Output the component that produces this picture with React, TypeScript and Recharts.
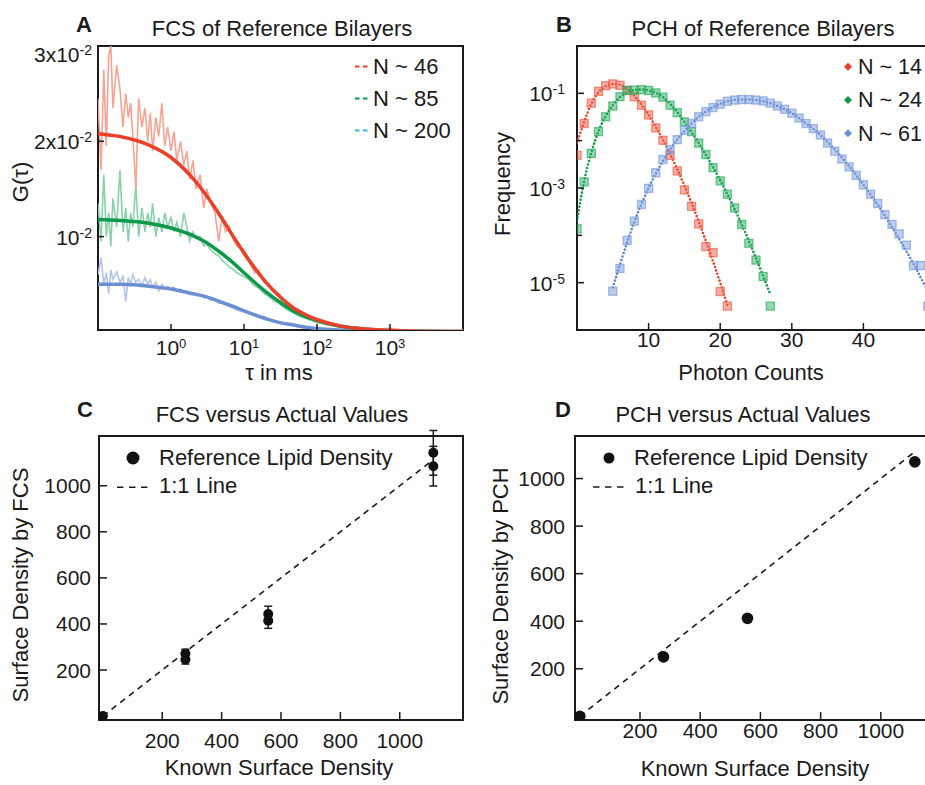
import React from 'react';
import { ComposedChart, LineChart, Line, Scatter, XAxis, YAxis, ReferenceArea, ErrorBar } from 'recharts';

const FONT = '"Liberation Sans", Arial, Helvetica, sans-serif';
const INK = '#1a1a1a';
const FS = 21;
const FL = 22;

// ---------- Panel A: FCS curves ----------
const fcsTau = [
  0.1, 0.11, 0.12, 0.13, 0.14, 0.15, 0.16, 0.18, 0.2, 0.22,
  0.24, 0.26, 0.28, 0.3, 0.33, 0.36, 0.4, 0.44, 0.48, 0.52,
  0.56, 0.62, 0.68, 0.75, 0.82, 0.9, 1.0, 1.1, 1.2, 1.35,
  1.5, 1.65, 1.8, 2.0, 2.2, 2.5, 2.8, 3.1, 3.5, 4.0,
  4.5, 5.0, 5.6, 6.3, 7.0, 8.0, 9.0, 10, 12, 14,
  16, 19, 22, 26, 30, 36, 42, 50, 60, 70,
  85, 100, 150, 220, 330, 500, 700, 1000, 1500, 2200,
  3300, 5000, 7000, 10000,
];
const fcsRawN46 = [
  0.0245, 0.0170, 0.0275, 0.0195, 0.0290, 0.0300, 0.0235, 0.0280, 0.0255, 0.0215,
  0.0250, 0.0225, 0.0240, 0.0205, 0.0150, 0.0245, 0.0215, 0.0235, 0.0200, 0.0230,
  0.0190, 0.0225, 0.0205, 0.0240, 0.0195, 0.0215, 0.0190, 0.0210, 0.0180, 0.0200,
  0.0175, 0.0190, 0.0160, 0.0180, 0.0150, 0.0165, 0.0130, 0.0150, 0.0135, 0.0125,
  0.0095, 0.0120, 0.0105, 0.0110, 0.0098, 0.0090, 0.0088, 0.0080, 0.0072, 0.0062,
  0.0064, 0.0052, 0.0050, 0.0042, 0.0040, 0.0033, 0.0030, 0.0025, 0.0022, 0.0018,
  0.0016, 0.0014, 0.0010, 0.0006, 0.0005, 0.0004, 0.0003, 0.0004, 0.0002, 0.0002,
  0.0002, 0.0002, 0.0002, 0.0002,
];
const fcsRawN85 = [
  0.0135, 0.0095, 0.0165, 0.0100, 0.0125, 0.0090, 0.0140, 0.0110, 0.0170, 0.0105,
  0.0130, 0.0095, 0.0125, 0.0110, 0.0155, 0.0100, 0.0130, 0.0105, 0.0125, 0.0110,
  0.0135, 0.0100, 0.0120, 0.0105, 0.0125, 0.0110, 0.0120, 0.0105, 0.0115, 0.0100,
  0.0125, 0.0110, 0.0095, 0.0105, 0.0098, 0.0100, 0.0090, 0.0092, 0.0086, 0.0082,
  0.0080, 0.0075, 0.0072, 0.0068, 0.0066, 0.0062, 0.0060, 0.0058, 0.0054, 0.0048,
  0.0046, 0.0040, 0.0037, 0.0032, 0.0030, 0.0025, 0.0022, 0.0019, 0.0016, 0.0014,
  0.0012, 0.0010, 0.0007, 0.0005, 0.0004, 0.0003, 0.0002, 0.0002, 0.0002, 0.0002,
  0.0002, 0.0002, 0.0002, 0.0002,
];
const fcsRawN200 = [
  0.0060, 0.0078, 0.0050, 0.0062, 0.0040, 0.0065, 0.0055, 0.0063, 0.0052, 0.0058,
  0.0032, 0.0057, 0.0050, 0.0060, 0.0052, 0.0055, 0.0048, 0.0057, 0.0050, 0.0055,
  0.0047, 0.0052, 0.0043, 0.0050, 0.0046, 0.0048, 0.0045, 0.0047, 0.0043, 0.0045,
  0.0042, 0.0043, 0.0040, 0.0041, 0.0038, 0.0039, 0.0036, 0.0036, 0.0033, 0.0033,
  0.0030, 0.0030, 0.0028, 0.0027, 0.0025, 0.0023, 0.0022, 0.0021, 0.0019, 0.0017,
  0.0015, 0.0013, 0.0012, 0.0011, 0.0009, 0.0008, 0.0007, 0.0006, 0.0005, 0.0004,
  0.0004, 0.0003, 0.0002, 0.0002, 0.0002, 0.0002, 0.0002, 0.0002, 0.0002, 0.0002,
  0.0002, 0.0002, 0.0002, 0.0002,
];
const fcsFitTau = [0.1, 0.2, 0.5, 1, 2, 3, 5, 7, 10, 15, 20, 30, 50, 70, 100, 200, 500, 1000, 3000, 10000];
const fcsFitN46 = [0.0208, 0.0205, 0.0196, 0.0183, 0.0161, 0.0144, 0.0119, 0.0101, 0.0083, 0.0064, 0.0052, 0.0038, 0.0024, 0.0018, 0.0013, 0.00066, 0.00027, 0.00014, 0.00005, 0.00001];
const fcsFitN85 = [0.0118, 0.0117, 0.0114, 0.0109, 0.0101, 0.0094, 0.0082, 0.0073, 0.0062, 0.0050, 0.0042, 0.0032, 0.0021, 0.0016, 0.0012, 0.00062, 0.00026, 0.00013, 0.00004, 0.00001];
const fcsFitN200 = [0.0050, 0.0050, 0.0048, 0.0045, 0.0040, 0.0037, 0.0031, 0.0027, 0.0022, 0.0017, 0.0014, 0.0010, 0.0007, 0.0005, 0.00036, 0.00019, 0.00008, 0.00004, 0.00001, 0.0];
const fcsXTicks = [1, 10, 100, 1000];
const fcsYTicks = [0.01, 0.02, 0.03];
const fcsLegend = ['N ~ 46', 'N ~ 85', 'N ~ 200'];

// ---------- Panel B: PCH ----------
const pchCountsN14 = [0, 1, 2, 3, 4, 5, 6, 7, 8, 9, 10, 11, 12, 13, 14, 15, 16, 17, 18, 19, 20, 21];
const pchDataN14 = [4.9e-3, 2.3e-2, 6.2e-2, 0.110, 0.145, 0.158, 0.148, 0.115, 0.085, 0.056, 0.035, 0.0186, 0.0102, 4.9e-3, 2.3e-3, 9.1e-4, 4.1e-4, 1.74e-4, 5.8e-5, 4.3e-5, 6.5e-6, 3.2e-6];
const pchFitN14 = [8.9e-3, 0.025, 0.060, 0.105, 0.141, 0.158, 0.151, 0.123, 0.089, 0.058, 0.035, 0.0195, 0.0105, 5.2e-3, 2.5e-3, 1.12e-3, 4.8e-4, 1.95e-4, 7.6e-5, 2.8e-5, 1.0e-5, 3.4e-6];
const pchCountsN24 = [0, 1, 2, 3, 4, 5, 6, 7, 8, 9, 10, 11, 12, 13, 14, 15, 16, 17, 18, 19, 20, 21, 22, 23, 24, 25, 26, 27];
const pchDataN24 = [1.38e-4, 1.35e-3, 5.4e-3, 0.0155, 0.032, 0.054, 0.085, 0.115, 0.117, 0.120, 0.115, 0.102, 0.083, 0.056, 0.039, 0.025, 0.0155, 8.9e-3, 5.1e-3, 2.7e-3, 1.41e-3, 7.4e-4, 3.8e-4, 1.70e-4, 6.8e-5, 3.0e-5, 1.35e-5, 3.2e-6];
const pchFitN24 = [2.0e-4, 1.41e-3, 5.6e-3, 0.0158, 0.033, 0.056, 0.083, 0.105, 0.117, 0.120, 0.115, 0.102, 0.083, 0.060, 0.040, 0.025, 0.0151, 8.9e-3, 5.0e-3, 2.75e-3, 1.45e-3, 7.4e-4, 3.6e-4, 1.70e-4, 7.6e-5, 3.3e-5, 1.38e-5, 5.6e-6];
const pchCountsN61 = [5, 6, 7, 8, 9, 10, 11, 12, 13, 14, 15, 16, 17, 18, 19, 20, 21, 22, 23, 24, 25, 26, 27, 28, 29, 30, 31, 32, 33, 34, 35, 36, 37, 38, 39, 40, 41, 42, 43, 44, 45, 46, 47, 48, 49];
const pchDataN61 = [6.6e-6, 2.0e-5, 7.8e-5, 2.0e-4, 4.5e-4, 9.8e-4, 2.1e-3, 4.0e-3, 6.5e-3, 0.0105, 0.0166, 0.023, 0.032, 0.041, 0.050, 0.059, 0.068, 0.072, 0.074, 0.074, 0.072, 0.069, 0.062, 0.054, 0.046, 0.038, 0.030, 0.023, 0.018, 0.0132, 8.9e-3, 6.0e-3, 4.1e-3, 2.8e-3, 1.86e-3, 1.17e-3, 7.4e-4, 4.7e-4, 2.75e-4, 1.70e-4, 1.07e-4, 6.2e-5, 2.3e-5, 2.3e-5, 3.2e-6];
const pchFitCountsN61 = [5, 6, 7, 8, 9, 10, 11, 12, 13, 14, 15, 16, 17, 18, 19, 20, 21, 22, 23, 24, 25, 26, 27, 28, 29, 30, 31, 32, 33, 34, 35, 36, 37, 38, 39, 40, 41, 42, 43, 44, 45, 46, 47, 48, 49, 50];
const pchFitN61 = [7.9e-6, 2.4e-5, 7.1e-5, 1.9e-4, 4.6e-4, 1.0e-3, 2.0e-3, 3.7e-3, 6.5e-3, 0.0105, 0.0158, 0.023, 0.032, 0.041, 0.051, 0.060, 0.068, 0.072, 0.074, 0.074, 0.072, 0.068, 0.062, 0.054, 0.046, 0.038, 0.030, 0.023, 0.0178, 0.0132, 9.3e-3, 6.5e-3, 4.4e-3, 2.9e-3, 1.86e-3, 1.17e-3, 7.2e-4, 4.4e-4, 2.6e-4, 1.48e-4, 8.3e-5, 4.6e-5, 2.5e-5, 1.29e-5, 6.6e-6, 3.3e-6];
const pchXTicks = [10, 20, 30, 40];
const pchYTicks = [1e-5, 1e-4, 1e-3, 1e-2, 1e-1];
const pchLegend = ['N ~ 14', 'N ~ 24', 'N ~ 61'];

// ---------- Panel C: FCS vs actual ----------
const fcsKnown = [0, 278, 278, 557, 557, 1113, 1113];
const fcsMeasured = [0, 272, 246, 443, 414, 1143, 1085];
const fcsError = [0, 18, 20, 34, 33, 97, 86];

// ---------- Panel D: PCH vs actual ----------
const pchKnown = [0, 278, 557, 1113];
const pchMeasured = [0, 250, 412, 1070];

const unityX = [0, 1110];
const unityY = [0, 1110];
const surfTicks = [200, 400, 600, 800, 1000];

// ---------- tables ----------
const zipXY = (xs: number[], ys: number[]) => xs.map((x, i) => ({ x, y: ys[i] }));
const rawRed = zipXY(fcsTau, fcsRawN46);
const rawGreen = zipXY(fcsTau, fcsRawN85);
const rawBlue = zipXY(fcsTau, fcsRawN200);
const fitRed = zipXY(fcsFitTau, fcsFitN46);
const fitGreen = zipXY(fcsFitTau, fcsFitN85);
const fitBlue = zipXY(fcsFitTau, fcsFitN200);
const pchRedData = zipXY(pchCountsN14, pchDataN14);
const pchRedFit = zipXY(pchCountsN14, pchFitN14);
const pchGreenData = zipXY(pchCountsN24, pchDataN24);
const pchGreenFit = zipXY(pchCountsN24, pchFitN24);
const pchBlueData = zipXY(pchCountsN61, pchDataN61);
const pchBlueFit = zipXY(pchFitCountsN61, pchFitN61);
const fcsScatter = fcsKnown.map((x, i) => ({ x, y: fcsMeasured[i], err: fcsError[i] }));
const pchScatter = zipXY(pchKnown, pchMeasured);
const unity = zipXY(unityX, unityY);

const RED = '#ec3f28';
const GREEN = '#0c9a4a';
const BLUE = '#6b8fd3';

// ---------- ticks ----------
const txt = { fontFamily: FONT, fill: INK } as const;

const FcsXTick = (p: any) => {
  const e = Math.round(Math.log10(p.payload.value));
  return (
    <g>
      <line x1={p.x} x2={p.x} y1={p.y} y2={p.y - 6} stroke={INK} strokeWidth={1.5} />
      <text x={p.x} y={p.y + 25} textAnchor="middle" fontSize={FS} {...txt}>
        10<tspan dy={-7} fontSize={13}>{e}</tspan>
      </text>
    </g>
  );
};
const FcsYTick = (p: any) => {
  const v = p.payload.value;
  const m = Math.round(v * 100);
  const dy = m === 3 ? 16 : 8;
  return (
    <g>
      <line x1={p.x} x2={p.x + 6} y1={p.y} y2={p.y} stroke={INK} strokeWidth={1.5} />
      <text x={p.x - 6} y={p.y + dy} textAnchor="end" fontSize={FS} {...txt}>
        {m === 1 ? '' : `${m}x`}10<tspan dy={-7} fontSize={14}>-2</tspan>
      </text>
    </g>
  );
};
const PchXTick = (p: any) => (
  <g>
    <line x1={p.x} x2={p.x} y1={p.y} y2={p.y - 7} stroke={INK} strokeWidth={1.5} />
    <text x={p.x} y={p.y + 17} textAnchor="middle" fontSize={FS} {...txt}>{p.payload.value}</text>
  </g>
);
const PchYTick = (p: any) => {
  const e = Math.round(Math.log10(p.payload.value));
  const major = Math.abs(e) % 2 === 1;
  return (
    <g>
      <line x1={p.x} x2={p.x + (major ? 7 : 5)} y1={p.y} y2={p.y} stroke={INK} strokeWidth={1.5} />
      {major && (
        <text x={p.x - 12} y={p.y + 8} textAnchor="end" fontSize={FS} {...txt}>
          10<tspan dy={-7} fontSize={14}>{e}</tspan>
        </text>
      )}
    </g>
  );
};
const makeLinXTick = (dy: number) => (p: any) => (
  <g>
    <line x1={p.x} x2={p.x} y1={p.y} y2={p.y - 8} stroke={INK} strokeWidth={1.5} />
    <text x={p.x} y={p.y + dy} textAnchor="middle" fontSize={FS} {...txt}>{p.payload.value}</text>
  </g>
);
const makeLinYTick = (gap: number) => (p: any) => (
  <g>
    <line x1={p.x} x2={p.x + 8} y1={p.y} y2={p.y} stroke={INK} strokeWidth={1.5} />
    <text x={p.x - gap} y={p.y + 7.5} textAnchor="end" fontSize={FS} {...txt}>{p.payload.value}</text>
  </g>
);

const makeSquare = (color: string) => (p: any) => (
  <rect x={p.cx - 4} y={p.cy - 4} width={8} height={8} fill={color} fillOpacity={0.5} stroke={color} strokeOpacity={0.7} strokeWidth={1.3} />
);
const dotShape = (r: number) => (p: any) => <circle cx={p.cx} cy={p.cy} r={r} fill="#111" />;

const axisCommon = { tickLine: false, axisLine: false, tickSize: 0, tickMargin: 0, interval: 0 as const, allowDataOverflow: true };

function PanelA() {
  return (
    <div style={{ position: 'absolute', left: 0, top: 0 }}>
      <LineChart width={470} height={390} margin={{ top: 46, right: 7, bottom: 20, left: 0 }}>
        <XAxis type="number" dataKey="x" scale="log" domain={[0.1, 10000]} ticks={fcsXTicks} tick={FcsXTick} height={40} {...axisCommon} />
        <YAxis type="number" domain={[0.0002, 0.03]} ticks={fcsYTicks} tick={FcsYTick} width={98} {...axisCommon} />
        <Line data={rawBlue} dataKey="y" stroke="#b4c4ea" strokeWidth={1.6} dot={false} isAnimationActive={false} type="linear" />
        <Line data={rawGreen} dataKey="y" stroke="#8ad3aa" strokeWidth={1.6} dot={false} isAnimationActive={false} type="linear" />
        <Line data={rawRed} dataKey="y" stroke="#f6a393" strokeWidth={1.6} dot={false} isAnimationActive={false} type="linear" />
        <Line data={fitBlue} dataKey="y" stroke={BLUE} strokeWidth={3.5} dot={false} isAnimationActive={false} type="monotone" />
        <Line data={fitGreen} dataKey="y" stroke={GREEN} strokeWidth={3.5} dot={false} isAnimationActive={false} type="monotone" />
        <Line data={fitRed} dataKey="y" stroke={RED} strokeWidth={3.5} dot={false} isAnimationActive={false} type="monotone" />
        <ReferenceArea x1={0.1} x2={10000} y1={0.0002} y2={0.03} fill="none" stroke={INK} strokeWidth={2} ifOverflow="visible" />
      </LineChart>
    </div>
  );
}

function PanelB() {
  return (
    <div style={{ position: 'absolute', left: 470, top: 0 }}>
      <ComposedChart width={470} height={390} margin={{ top: 46, right: 5, bottom: 20, left: 0 }}>
        <XAxis type="number" dataKey="x" domain={[0, 50]} ticks={pchXTicks} tick={PchXTick} height={40} {...axisCommon} />
        <YAxis type="number" dataKey="y" scale="log" domain={[1e-6, 1]} ticks={pchYTicks} tick={PchYTick} width={107} {...axisCommon} />
        <Scatter data={pchRedData} shape={makeSquare('#f0604c')} isAnimationActive={false} />
        <Scatter data={pchGreenData} shape={makeSquare('#2fae62')} isAnimationActive={false} />
        <Scatter data={pchBlueData} shape={makeSquare('#7d9ddb')} isAnimationActive={false} />
        <Line data={pchRedFit} dataKey="y" stroke={RED} strokeWidth={2.6} strokeDasharray="0 3.6" strokeLinecap="round" dot={false} isAnimationActive={false} type="monotone" />
        <Line data={pchGreenFit} dataKey="y" stroke={GREEN} strokeWidth={2.6} strokeDasharray="0 3.6" strokeLinecap="round" dot={false} isAnimationActive={false} type="monotone" />
        <Line data={pchBlueFit} dataKey="y" stroke="#5c85cf" strokeWidth={2.6} strokeDasharray="0 3.6" strokeLinecap="round" dot={false} isAnimationActive={false} type="monotone" />
        <ReferenceArea x1={0} x2={50} y1={1e-6} y2={1} fill="none" stroke={INK} strokeWidth={2} ifOverflow="visible" />
      </ComposedChart>
    </div>
  );
}

function PanelC() {
  return (
    <div style={{ position: 'absolute', left: 0, top: 390 }}>
      <ComposedChart width={470} height={395} margin={{ top: 46, right: 7, bottom: 25, left: 0 }}>
        <XAxis type="number" dataKey="x" domain={[-13, 1213]} ticks={surfTicks} tick={makeLinXTick(28)} height={40} {...axisCommon} />
        <YAxis type="number" dataKey="y" domain={[-17, 1216]} ticks={surfTicks} tick={makeLinYTick(8)} width={99} {...axisCommon} />
        <Line data={unity} dataKey="y" stroke={INK} strokeWidth={1.6} strokeDasharray="6 5" dot={false} isAnimationActive={false} type="linear" />
        <Scatter data={fcsScatter} shape={dotShape(5)} isAnimationActive={false}>
          <ErrorBar dataKey="err" direction="y" width={4} stroke={INK} strokeWidth={1.5} />
        </Scatter>
        <ReferenceArea x1={-13} x2={1213} y1={-17} y2={1216} fill="none" stroke={INK} strokeWidth={2} ifOverflow="visible" />
      </ComposedChart>
    </div>
  );
}

function PanelD() {
  return (
    <div style={{ position: 'absolute', left: 470, top: 390 }}>
      <ComposedChart width={470} height={395} margin={{ top: 46, right: 5, bottom: 25, left: 0 }}>
        <XAxis type="number" dataKey="x" domain={[-16, 1180]} ticks={surfTicks} tick={makeLinXTick(18)} height={40} {...axisCommon} />
        <YAxis type="number" dataKey="y" domain={[-15.5, 1179]} ticks={surfTicks} tick={makeLinYTick(10)} width={105} {...axisCommon} />
        <Line data={unity} dataKey="y" stroke={INK} strokeWidth={1.6} strokeDasharray="6 5" dot={false} isAnimationActive={false} type="linear" />
        <Scatter data={pchScatter} shape={dotShape(5.8)} isAnimationActive={false} />
        <ReferenceArea x1={-16} x2={1180} y1={-15.5} y2={1179} fill="none" stroke={INK} strokeWidth={2} ifOverflow="visible" />
      </ComposedChart>
    </div>
  );
}

function Overlay() {
  const T = (props: any) => <text fontFamily={FONT} fill={INK} fontSize={FL} {...props} />;
  const legendColorsA = [RED, GREEN, '#35b4e4'];
  const legendColorsB = [RED, GREEN, BLUE];
  return (
    <svg width={925} height={785} style={{ position: 'absolute', left: 0, top: 0, pointerEvents: 'none' }}>
      <T x={76} y={32} fontWeight="bold" fontSize={22}>A</T>
      <T x={556} y={32} fontWeight="bold" fontSize={22}>B</T>
      <T x={77} y={417} fontWeight="bold" fontSize={22}>C</T>
      <T x={555} y={417} fontWeight="bold" fontSize={22}>D</T>

      <T x={282} y={36} textAnchor="middle">FCS of Reference Bilayers</T>
      <T x={763} y={36} textAnchor="middle">PCH of Reference Bilayers</T>
      <T x={282} y={422} textAnchor="middle">FCS versus Actual Values</T>
      <T x={743} y={422} textAnchor="middle">PCH versus Actual Values</T>

      <T x={279} y={380} textAnchor="middle">τ in ms</T>
      <T x={751} y={380} textAnchor="middle">Photon Counts</T>
      <T x={279} y={775} textAnchor="middle">Known Surface Density</T>
      <T x={755} y={776} textAnchor="middle">Known Surface Density</T>

      <T x={28} y={182} textAnchor="middle" transform="rotate(-90 28 182)">G(τ)</T>
      <T x={510} y={184} textAnchor="middle" transform="rotate(-90 510 184)">Frequency</T>
      <T x={28} y={585} textAnchor="middle" transform="rotate(-90 28 585)">Surface Density by FCS</T>
      <T x={508} y={586} textAnchor="middle" transform="rotate(-90 508 586)">Surface Density by PCH</T>

      {fcsLegend.map((s, i) => {
        const cy = 66.5 + i * 32;
        return (
          <g key={s}>
            <line x1={355} x2={368} y1={cy} y2={cy} stroke={legendColorsA[i]} strokeWidth={2} strokeDasharray="4.5 3.5" />
            <T x={373} y={cy + 7}>{s}</T>
          </g>
        );
      })}
      {pchLegend.map((s, i) => {
        const cy = 66.7 + i * 33.3;
        return (
          <g key={s}>
            <polygon points={`848,${cy - 4} 852,${cy} 848,${cy + 4} 844,${cy}`} fill={legendColorsB[i]} />
            <T x={858} y={cy + 7.3} fontSize={21.5}>{s}</T>
          </g>
        );
      })}

      <circle cx={133} cy={458} r={6.5} fill="#111" />
      <T x={159} y={465}>Reference Lipid Density</T>
      <line x1={117} x2={151} y1={487.3} y2={487.3} stroke={INK} strokeWidth={1.6} strokeDasharray="6.5 5.5" />
      <T x={159} y={493}>1:1 Line</T>

      <circle cx={609} cy={458} r={5.5} fill="#111" />
      <T x={634} y={465}>Reference Lipid Density</T>
      <line x1={593} x2={626} y1={487} y2={487} stroke={INK} strokeWidth={1.6} strokeDasharray="6.5 5.5" />
      <T x={635} y={493.3}>1:1 Line</T>
    </svg>
  );
}

export default function App() {
  return (
    <div style={{ position: 'absolute', left: 0, top: 0, width: 925, height: 785, overflow: 'hidden', background: '#fff' }}>
      <PanelA />
      <PanelB />
      <PanelC />
      <PanelD />
      <Overlay />
    </div>
  );
}
